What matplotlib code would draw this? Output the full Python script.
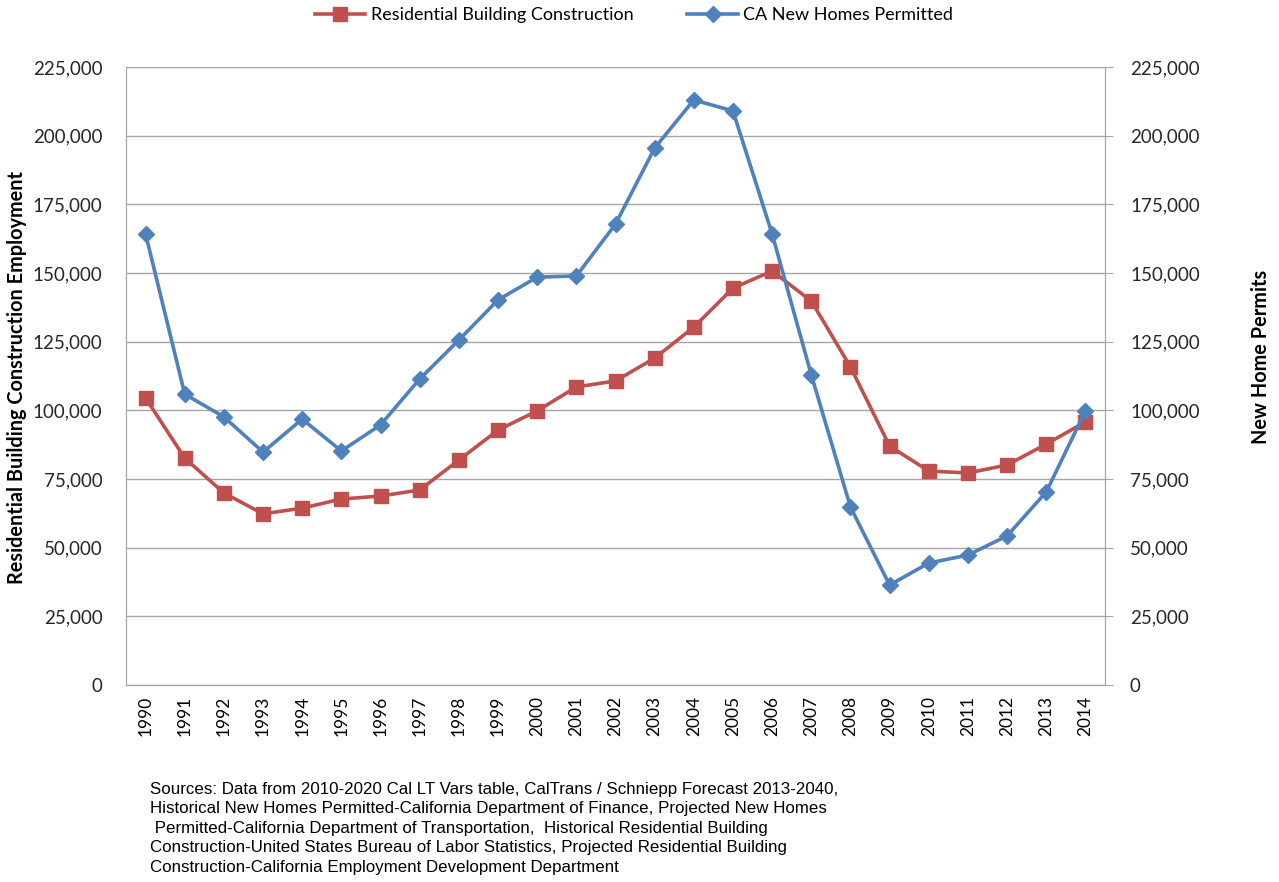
import matplotlib
matplotlib.use("Agg")
import matplotlib.pyplot as plt
from matplotlib.ticker import FuncFormatter, MultipleLocator

years = [str(y) for y in range(1990, 2015)]
residential = [104500, 82600, 69900, 62300, 64400, 67700, 68800, 71000, 81900, 92800,
               99800, 108500, 110700, 119000, 130300, 144500, 150700, 139800, 115800, 87000,
               77900, 77200, 80100, 87700, 95800]
permits = [164200, 105900, 97600, 84800, 96800, 85200, 94700, 111400, 125600, 140200,
           148500, 148900, 167800, 195500, 213000, 209000, 164200, 112900, 64800, 36400,
           44400, 47300, 54300, 70300, 99800]

red = "#C0504D"
blue = "#4F81BD"
grid = "#A6A6A6"
font = "Lato"

fig = plt.figure(figsize=(12.79, 8.82), dpi=100)
ax = fig.add_axes([126/1279, 1-685/882, (1105-126)/1279, (685-67)/882])
ax2 = ax.twinx()

x = list(range(len(years)))
l1, = ax.plot(x, residential, color=red, lw=2.6, marker="s", ms=10, label="Residential Building Construction", zorder=3)
l2, = ax2.plot(x, permits, color=blue, lw=2.6, marker="D", ms=8, label="CA New Homes Permitted", zorder=3)

fmt = FuncFormatter(lambda v, p: f"{int(v):,}")
for a in (ax, ax2):
    a.set_ylim(0, 225000)
    a.yaxis.set_major_locator(MultipleLocator(25000))
    a.yaxis.set_major_formatter(fmt)
    for s in a.spines.values():
        s.set_color(grid)
ax.set_xlim(-0.5, len(years) - 0.5)
ax.set_xticks(x)
ax.set_xticklabels(years, rotation=90, fontsize=12.5, family=font, color="#000000")
ax.tick_params(axis="x", length=0, pad=8)
ax.tick_params(axis="y", length=0, pad=17, labelsize=13.5, colors="#262626")
ax2.tick_params(axis="y", length=6, color=grid, pad=12, labelsize=13.5, colors="#262626")
for lab in ax.get_yticklabels() + ax2.get_yticklabels():
    lab.set_family(font)
ax.yaxis.grid(True, color=grid, lw=1)
ax.set_axisbelow(True)
ax.spines["top"].set_visible(False)
ax2.spines["top"].set_visible(False)

fig.text(17/1279, 1-377/882, "Residential Building Construction Employment", rotation=90,
         ha="center", va="center", fontsize=14.3, fontweight="bold", family=font)
fig.text(1261/1279, 1-357/882, "New Home Permits", rotation=90,
         ha="center", va="center", fontsize=14.3, fontweight="bold", family=font)

fig.legend(handles=[l1, l2], loc="center", bbox_to_anchor=(634/1279, 1-15/882), ncol=2,
           frameon=False, prop={"family": font, "size": 13}, handlelength=2.8,
           columnspacing=3.0, handletextpad=0.3)

src = ("Sources: Data from 2010-2020 Cal LT Vars table, CalTrans / Schniepp Forecast 2013-2040,\n"
       "Historical New Homes Permitted-California Department of Finance, Projected New Homes\n"
       " Permitted-California Department of Transportation,  Historical Residential Building\n"
       "Construction-United States Bureau of Labor Statistics, Projected Residential Building\n"
       "Construction-California Employment Development Department")
fig.text(150/1279, 1-782/882, src, ha="left", va="top", fontsize=12.2,
         family=["Liberation Sans Narrow", "Liberation Sans"], color="#000000", linespacing=1.37)

fig.savefig("out.png", dpi=100)
